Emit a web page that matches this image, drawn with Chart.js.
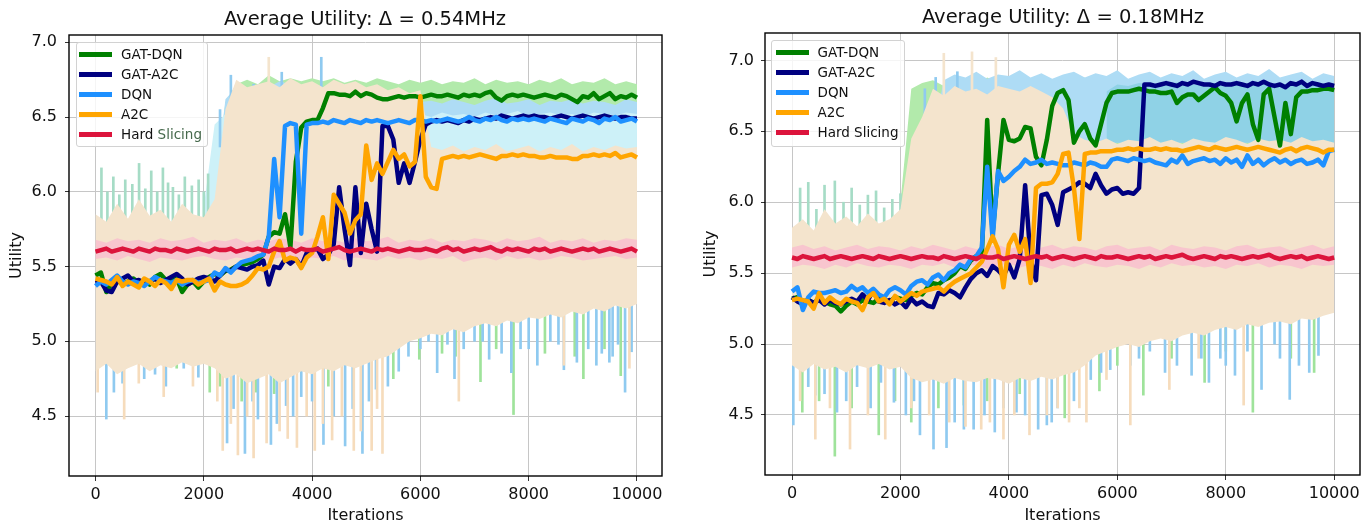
<!DOCTYPE html>
<html>
<head>
<meta charset="utf-8">
<title>Average Utility</title>
<script src="https://cdn.jsdelivr.net/npm/chart.js@4.4.1/dist/chart.umd.min.js"></script>
<style>
  html, body { margin: 0; padding: 0; background: #fff; }
  body { position: relative; width: 1368px; height: 525px; overflow: hidden; font-family: "DejaVu Sans", sans-serif; color: #111; }
  canvas { position: absolute; top: 0; }
  #chartLeft { left: 0; }
  #chartRight { left: 684px; }
  .title { position: absolute; width: 400px; text-align: center; font-size: 19.5px; line-height: 24px; color: #111; }
  .legend { position: absolute; box-sizing: border-box; border: 1px solid #d2d2d2; border-radius: 3px; background: rgba(255,255,255,0.82); font-size: 13.5px; color: #111; }
  .legend-child { position: absolute; height: 20px; line-height: 20px; white-space: nowrap; }
  .legend-child span.sw { display: inline-block; width: 33px; height: 5px; margin-right: 9px; vertical-align: middle; position: relative; top: -1px; }
</style>
</head>
<body>
<canvas id="chartLeft" width="684" height="525"></canvas>
<canvas id="chartRight" width="684" height="525"></canvas>
<div class="title" style="left:165px; top:7px;">Average Utility: Δ = 0.54MHz</div>
<div class="title" style="left:863px; top:5px;">Average Utility: Δ = 0.18MHz</div>
<div class="legend" id="legendLeft" style="left:76px; top:42px; width:132px; height:105px;"></div>
<div class="legend" id="legendRight" style="left:771px; top:40px; width:134px; height:107px;"></div>
<script>
// x grid of the smoothed curves (every 100 iterations) and of the raw bands (every 200)
const iters = [
  0,100,200,300,400,500,600,700,800,900,
  1000,1100,1200,1300,1400,1500,1600,1700,1800,1900,
  2000,2100,2200,2300,2400,2500,2600,2700,2800,2900,
  3000,3100,3200,3300,3400,3500,3600,3700,3800,3900,
  4000,4100,4200,4300,4400,4500,4600,4700,4800,4900,
  5000,5100,5200,5300,5400,5500,5600,5700,5800,5900,
  6000,6100,6200,6300,6400,6500,6600,6700,6800,6900,
  7000,7100,7200,7300,7400,7500,7600,7700,7800,7900,
  8000,8100,8200,8300,8400,8500,8600,8700,8800,8900,
  9000,9100,9200,9300,9400,9500,9600,9700,9800,9900,
  10000];
const bandIters = [
  0,200,400,600,800,1000,1200,1400,1600,1800,
  2000,2200,2400,2600,2800,3000,3200,3400,3600,3800,
  4000,4200,4400,4600,4800,5000,5200,5400,5600,5800,
  6000,6200,6400,6600,6800,7000,7200,7400,7600,7800,
  8000,8200,8400,8600,8800,9000,9200,9400,9600,9800,
  10000];
const xTicks = [0, 2000, 4000, 6000, 8000, 10000];
const yTicks = [4.5, 5.0, 5.5, 6.0, 6.5, 7.0];
const seriesNames = ["GAT-DQN", "GAT-A2C", "DQN", "A2C", "Hard Slicing"];

// ---------- left panel (0.54MHz) ----------
const L_gatDqn = [
  5.44,5.46,5.33,5.39,5.41,5.38,5.40,5.42,5.39,5.41,
  5.38,5.43,5.45,5.41,5.40,5.42,5.33,5.38,5.40,5.36,
  5.40,5.43,5.45,5.44,5.47,5.48,5.50,5.51,5.52,5.53,
  5.55,5.58,5.70,5.73,5.72,5.85,5.63,6.20,6.43,6.47,
  6.48,6.48,6.56,6.66,6.66,6.65,6.65,6.64,6.67,6.64,
  6.66,6.65,6.63,6.62,6.62,6.63,6.64,6.63,6.64,6.64,
  6.63,6.64,6.65,6.64,6.64,6.65,6.64,6.63,6.65,6.64,
  6.65,6.64,6.66,6.67,6.63,6.61,6.64,6.65,6.64,6.65,
  6.64,6.63,6.64,6.65,6.64,6.63,6.65,6.64,6.62,6.60,
  6.64,6.63,6.66,6.62,6.64,6.66,6.62,6.64,6.63,6.65,
  6.63];
const L_gatA2c = [
  5.39,5.40,5.34,5.33,5.40,5.42,5.44,5.40,5.41,5.39,
  5.40,5.42,5.39,5.41,5.43,5.45,5.42,5.38,5.40,5.42,
  5.43,5.42,5.40,5.44,5.48,5.47,5.50,5.49,5.48,5.50,
  5.51,5.54,5.38,5.50,5.49,5.55,5.52,5.55,5.50,5.59,
  5.61,5.62,5.55,5.58,5.65,6.03,5.75,5.51,6.03,5.59,
  5.92,5.75,5.60,6.44,6.44,6.35,6.06,6.19,6.06,6.20,
  6.35,6.45,6.47,6.48,6.47,6.48,6.47,6.46,6.48,6.47,
  6.49,6.48,6.49,6.50,6.49,6.51,6.50,6.49,6.50,6.51,
  6.50,6.51,6.50,6.50,6.49,6.50,6.51,6.50,6.49,6.50,
  6.51,6.50,6.49,6.50,6.51,6.50,6.49,6.50,6.50,6.49,
  6.49];
const L_dqn = [
  5.37,5.40,5.38,5.41,5.44,5.40,5.38,5.40,5.39,5.37,
  5.40,5.43,5.41,5.40,5.39,5.41,5.38,5.40,5.41,5.39,
  5.40,5.41,5.46,5.44,5.49,5.46,5.50,5.53,5.54,5.55,
  5.57,5.58,5.70,6.22,5.83,6.44,6.46,6.45,5.72,6.45,
  6.46,6.46,6.47,6.46,6.48,6.47,6.46,6.48,6.47,6.46,
  6.48,6.47,6.48,6.47,6.46,6.47,6.48,6.47,6.46,6.48,
  6.48,6.47,6.48,6.47,6.48,6.49,6.48,6.47,6.48,6.50,
  6.48,6.47,6.49,6.48,6.50,6.48,6.47,6.49,6.48,6.49,
  6.48,6.49,6.48,6.47,6.49,6.48,6.47,6.46,6.49,6.48,
  6.47,6.49,6.48,6.46,6.49,6.48,6.50,6.47,6.48,6.49,
  6.47];
const L_a2c = [
  5.42,5.41,5.40,5.38,5.43,5.37,5.40,5.38,5.36,5.42,
  5.40,5.37,5.41,5.39,5.35,5.41,5.40,5.41,5.41,5.38,
  5.40,5.42,5.34,5.40,5.38,5.37,5.37,5.38,5.40,5.44,
  5.49,5.48,5.50,5.60,5.67,5.54,5.56,5.55,5.49,5.56,
  5.59,5.70,5.83,5.55,5.98,5.92,5.86,5.72,5.81,5.85,
  6.31,6.08,6.19,6.12,6.20,6.28,6.22,6.25,6.17,6.20,
  6.64,6.10,6.03,6.02,6.22,6.23,6.24,6.23,6.24,6.23,
  6.24,6.25,6.24,6.23,6.22,6.24,6.24,6.25,6.24,6.25,
  6.24,6.24,6.23,6.23,6.24,6.23,6.23,6.23,6.22,6.22,
  6.24,6.24,6.25,6.24,6.25,6.24,6.26,6.23,6.24,6.25,
  6.23];
const L_hard = [
  5.60,5.61,5.62,5.60,5.61,5.62,5.61,5.60,5.62,5.61,
  5.60,5.62,5.61,5.61,5.60,5.62,5.61,5.60,5.61,5.62,
  5.61,5.60,5.62,5.61,5.61,5.62,5.60,5.61,5.62,5.61,
  5.62,5.61,5.60,5.62,5.61,5.61,5.62,5.60,5.62,5.61,
  5.61,5.62,5.60,5.61,5.62,5.63,5.61,5.60,5.61,5.62,
  5.61,5.60,5.62,5.61,5.62,5.61,5.60,5.61,5.62,5.61,
  5.61,5.62,5.61,5.60,5.62,5.63,5.61,5.62,5.60,5.61,
  5.62,5.61,5.62,5.63,5.61,5.60,5.62,5.61,5.62,5.61,
  5.60,5.62,5.61,5.62,5.60,5.61,5.62,5.61,5.60,5.61,
  5.62,5.61,5.62,5.60,5.61,5.62,5.61,5.60,5.61,5.62,
  5.60];

// raw (unsmoothed) envelopes, every 200 iterations
const L_beigeHi = [
  5.85,5.80,5.92,5.82,5.95,5.84,5.88,5.80,5.92,5.85,
  5.83,5.95,6.55,6.75,6.70,6.72,6.74,6.70,6.76,6.72,
  6.74,6.70,6.75,6.72,6.74,6.70,6.72,6.68,6.70,6.66,
  6.68,6.30,6.28,6.31,6.27,6.30,6.28,6.32,6.27,6.29,
  6.31,6.27,6.30,6.28,6.32,6.27,6.30,6.28,6.31,6.29,
  6.30];
const L_beigeLo = [
  4.80,4.85,4.78,4.82,4.85,4.80,4.84,4.82,4.86,4.83,
  4.85,4.82,4.75,4.78,4.72,4.75,4.78,4.72,4.76,4.80,
  4.78,4.82,4.80,4.84,4.82,4.85,4.88,4.90,4.95,5.00,
  5.02,5.05,5.04,5.08,5.06,5.10,5.12,5.10,5.14,5.12,
  5.16,5.15,5.18,5.16,5.20,5.18,5.22,5.20,5.24,5.22,
  5.25];
const L_greenHi = [
  null,null,null,null,null,null,null,null,null,null,
  null,6.00,6.60,6.72,6.75,6.72,6.78,6.74,6.76,6.74,
  6.76,6.74,6.76,6.73,6.75,6.73,6.76,6.74,6.72,6.75,
  6.73,6.75,6.72,6.74,6.73,6.76,6.72,6.75,6.73,6.74,
  6.72,6.75,6.73,6.76,6.72,6.74,6.73,6.76,6.72,6.74,
  6.72];
const L_greenLo = [
  null,null,null,null,null,null,null,null,null,null,
  null,5.80,5.80,5.80,5.80,5.80,5.80,5.80,5.80,5.80,
  5.80,6.40,6.54,6.55,6.53,6.56,6.54,6.53,6.55,6.54,
  6.56,6.53,6.55,6.54,6.53,6.56,6.54,6.55,6.53,6.54,
  6.56,6.55,6.53,6.54,6.56,6.55,6.53,6.54,6.55,6.53,
  6.56];
const L_blueHi = [
  null,null,null,null,null,null,null,null,null,null,
  null,6.00,6.62,6.70,6.68,6.72,6.70,6.74,6.72,6.70,
  6.62,6.60,6.62,6.58,6.61,6.59,6.63,6.60,6.58,6.62,
  6.60,6.61,6.59,6.62,6.60,6.58,6.61,6.63,6.59,6.60,
  6.62,6.58,6.61,6.60,6.62,6.59,6.61,6.60,6.58,6.62,
  6.60];
const L_blueLo = [
  null,null,null,null,null,null,null,null,null,null,
  null,5.80,5.80,5.80,5.80,5.80,5.80,5.80,5.80,5.80,
  5.80,6.40,6.40,6.40,6.40,6.40,6.40,6.40,6.40,6.40,
  6.40,6.40,6.40,6.40,6.40,6.40,6.40,6.40,6.40,6.40,
  6.40,6.40,6.40,6.40,6.40,6.40,6.40,6.40,6.40,6.40,
  6.40];
const L_cyanHi = [
  null,null,null,null,null,null,null,null,null,null,
  5.90,6.45,6.52,6.55,6.52,6.56,6.53,6.55,6.52,6.56,
  6.54,6.52,6.55,6.53,6.56,6.52,6.54,6.55,6.53,6.56,
  6.52,6.50,6.53,6.51,6.52,6.50,6.53,6.51,6.52,6.54,
  6.50,6.52,6.53,6.51,6.52,6.50,6.53,6.52,6.51,6.53,
  6.52];
const L_cyanLo = [
  null,null,null,null,null,null,null,null,null,null,
  5.80,5.80,5.80,5.80,5.80,5.80,5.80,5.80,5.80,5.80,
  5.80,5.80,5.80,5.80,5.80,5.80,5.80,5.80,5.80,5.80,
  6.10,6.10,6.10,6.10,6.10,6.10,6.10,6.10,6.10,6.10,
  6.10,6.10,6.10,6.10,6.10,6.10,6.10,6.10,6.10,6.10,
  6.10];
const L_pinkHi = [
  5.68,5.66,5.69,5.67,5.68,5.66,5.69,5.67,5.68,5.70,
  5.66,5.68,5.67,5.69,5.66,5.68,5.67,5.69,5.68,5.66,
  5.69,5.67,5.68,5.66,5.69,5.67,5.68,5.70,5.66,5.68,
  5.67,5.69,5.66,5.68,5.67,5.69,5.68,5.66,5.69,5.67,
  5.68,5.70,5.66,5.68,5.67,5.69,5.66,5.68,5.67,5.69,
  5.68];
const L_pinkLo = [
  5.55,5.56,5.54,5.57,5.55,5.53,5.56,5.55,5.54,5.56,
  5.57,5.55,5.54,5.56,5.55,5.57,5.54,5.56,5.55,5.53,
  5.56,5.55,5.57,5.54,5.56,5.55,5.54,5.57,5.55,5.56,
  5.54,5.56,5.55,5.57,5.53,5.55,5.56,5.54,5.57,5.55,
  5.56,5.54,5.55,5.57,5.56,5.54,5.55,5.56,5.57,5.55,
  5.56];

// single raw dips / peaks that stick out of the envelopes
const L_blueDipIters = [200,340,500,900,1100,1300,1630,1900,2430,2550,2760,2900,3000,3240,3350,3520,3650,3800,4000,4210,4400,4610,4750,4930,5050,5180,5400,5600,5780,6000,6150,6310,6500,6630,6800,7000,7150,7270,7500,7680,7850,8000,8160,8400,8550,8650,8890,9100,9250,9350,9490,9550,9650,9780,9900];
const L_blueDipLows  = [4.48,4.66,4.72,4.75,4.78,4.70,4.82,4.76,4.32,4.55,4.25,4.60,4.48,4.31,4.45,4.57,4.50,4.63,4.60,4.31,4.50,4.30,4.55,4.25,4.60,4.68,4.70,4.80,4.90,4.95,5.00,4.79,4.98,4.75,4.95,5.00,5.00,4.88,4.92,4.79,4.95,4.95,4.84,5.00,4.98,4.81,4.86,4.95,4.84,4.92,4.86,4.90,4.98,4.66,4.93];
const L_greenDipIters = [600,1500,2110,2300,2700,2960,3300,4300,5500,5980,6400,6650,7110,7400,7720,8300,8850,9010,9400,9700];
const L_greenDipLows  = [4.85,4.82,4.66,4.70,4.60,4.66,4.65,4.70,4.75,4.88,4.92,4.90,4.73,4.95,4.51,4.92,4.90,4.75,4.95,4.77];
const L_beigeDipIters = [40,530,800,1260,1800,2250,2350,2500,2630,2800,2920,3160,3400,3550,3720,3900,4050,4200,4370,4550,4770,4900,5100,5200,5300,6710,8650,9860];
const L_beigeDipLows  = [4.66,4.48,4.72,4.63,4.70,4.60,4.27,4.45,4.24,4.50,4.22,4.32,4.40,4.35,4.29,4.50,4.27,4.45,4.34,4.50,4.27,4.40,4.27,4.55,4.25,4.60,4.84,4.82];
const L_tealPeakIters = [110,220,330,440,550,680,805,920,1030,1140,1245,1340,1430,1540,1650,1780,1905,2000,2080];
const L_tealPeakHighs = [6.16,6.00,6.10,5.98,6.08,6.05,6.19,6.02,6.14,6.00,6.16,6.06,6.03,5.98,6.10,6.04,6.08,6.00,6.12];
const L_bluePeakIters = [2300,2500,2920,3440,4170];
const L_bluePeakHighs = [6.55,6.78,6.72,6.80,6.90];
const L_beigePeakIters = [3200];
const L_beigePeakHighs = [6.90];

// ---------- right panel (0.18MHz) ----------
const R_gatDqn = [
  5.32,5.33,5.30,5.31,5.29,5.32,5.30,5.28,5.27,5.23,
  5.27,5.30,5.28,5.31,5.30,5.29,5.32,5.31,5.30,5.33,
  5.32,5.31,5.34,5.36,5.35,5.40,5.43,5.42,5.45,5.47,
  5.50,5.55,5.53,5.59,5.62,5.62,6.58,5.78,6.20,6.58,
  6.44,6.43,6.45,6.53,6.52,6.32,6.26,6.44,6.68,6.77,
  6.79,6.72,6.42,6.50,6.55,6.45,6.40,6.55,6.70,6.77,
  6.78,6.78,6.78,6.79,6.80,6.79,6.78,6.78,6.77,6.77,
  6.78,6.70,6.74,6.76,6.76,6.72,6.75,6.78,6.81,6.77,
  6.75,6.70,6.57,6.70,6.76,6.55,6.44,6.76,6.80,6.60,
  6.40,6.70,6.48,6.74,6.78,6.78,6.79,6.79,6.80,6.80,
  6.79];
const R_gatA2c = [
  5.33,5.30,5.28,5.31,5.29,5.31,5.28,5.31,5.29,5.28,
  5.30,5.32,5.30,5.35,5.31,5.38,5.30,5.29,5.31,5.28,
  5.30,5.26,5.32,5.28,5.30,5.27,5.26,5.36,5.35,5.38,
  5.36,5.33,5.40,5.46,5.50,5.52,5.48,5.55,5.52,5.48,
  5.56,5.47,5.60,6.12,5.60,5.45,6.05,6.06,5.98,5.84,
  6.07,6.09,6.11,6.14,6.13,6.10,6.20,6.12,6.06,6.09,
  6.10,6.06,6.07,6.06,6.10,6.83,6.83,6.82,6.83,6.84,
  6.83,6.82,6.84,6.83,6.85,6.84,6.83,6.83,6.82,6.84,
  6.83,6.83,6.84,6.83,6.82,6.84,6.83,6.85,6.83,6.82,
  6.83,6.81,6.84,6.83,6.85,6.82,6.84,6.83,6.82,6.83,
  6.82];
const R_dqn = [
  5.37,5.40,5.24,5.33,5.37,5.36,5.36,5.37,5.38,5.36,
  5.37,5.41,5.38,5.40,5.36,5.39,5.35,5.33,5.38,5.40,
  5.38,5.35,5.41,5.44,5.45,5.42,5.47,5.49,5.45,5.50,
  5.52,5.56,5.54,5.60,5.62,5.68,6.25,5.74,6.22,6.15,
  6.18,6.22,6.25,6.30,6.27,6.28,6.30,6.27,6.28,6.27,
  6.26,6.26,6.28,6.27,6.26,6.28,6.27,6.25,6.25,6.30,
  6.31,6.30,6.29,6.31,6.30,6.29,6.30,6.28,6.27,6.26,
  6.30,6.28,6.33,6.27,6.29,6.30,6.31,6.29,6.30,6.27,
  6.31,6.28,6.30,6.25,6.33,6.27,6.30,6.26,6.29,6.31,
  6.28,6.30,6.27,6.29,6.30,6.27,6.28,6.30,6.26,6.36,
  6.37];
const R_a2c = [
  5.31,5.32,5.31,5.30,5.25,5.36,5.29,5.33,5.30,5.28,
  5.32,5.30,5.29,5.24,5.33,5.36,5.30,5.32,5.28,5.34,
  5.30,5.33,5.36,5.34,5.37,5.38,5.39,5.40,5.37,5.41,
  5.44,5.46,5.48,5.50,5.54,5.58,5.67,5.76,5.67,5.40,
  5.70,5.77,5.65,5.74,5.43,6.10,6.13,6.13,6.14,6.20,
  6.34,6.35,6.10,5.74,6.34,6.35,6.35,6.36,6.36,6.36,
  6.37,6.37,6.38,6.37,6.38,6.37,6.37,6.38,6.37,6.38,
  6.37,6.37,6.36,6.37,6.38,6.39,6.38,6.37,6.39,6.38,
  6.37,6.38,6.39,6.38,6.37,6.38,6.39,6.38,6.37,6.36,
  6.35,6.37,6.38,6.36,6.38,6.39,6.38,6.37,6.35,6.37,
  6.37];
const R_hard = [
  5.61,5.60,5.62,5.61,5.60,5.61,5.62,5.60,5.61,5.62,
  5.61,5.60,5.61,5.62,5.61,5.60,5.62,5.61,5.60,5.61,
  5.62,5.61,5.60,5.61,5.62,5.61,5.61,5.60,5.62,5.61,
  5.60,5.61,5.62,5.61,5.60,5.62,5.61,5.61,5.62,5.60,
  5.61,5.62,5.61,5.60,5.61,5.62,5.61,5.62,5.60,5.61,
  5.62,5.61,5.60,5.61,5.62,5.61,5.60,5.62,5.61,5.61,
  5.62,5.61,5.60,5.61,5.62,5.61,5.62,5.60,5.61,5.62,
  5.61,5.62,5.63,5.61,5.60,5.61,5.62,5.61,5.60,5.62,
  5.61,5.62,5.61,5.60,5.61,5.62,5.61,5.62,5.63,5.61,
  5.60,5.61,5.62,5.61,5.62,5.60,5.61,5.62,5.61,5.60,
  5.61];

const R_beigeHi = [
  5.82,5.88,5.80,5.95,5.85,5.90,5.83,5.92,5.85,5.88,
  5.95,6.45,6.60,6.80,6.75,6.82,6.78,6.80,6.76,6.82,
  6.80,6.78,6.82,6.78,6.74,6.66,6.48,6.44,6.42,6.45,
  6.41,6.44,6.43,6.46,6.42,6.44,6.41,6.45,6.43,6.42,
  6.46,6.44,6.41,6.45,6.43,6.44,6.42,6.46,6.43,6.44,
  6.42];
const R_beigeLo = [
  4.85,4.80,4.86,4.82,4.84,4.80,4.85,4.83,4.86,4.82,
  4.84,4.76,4.73,4.75,4.72,4.76,4.74,4.73,4.76,4.75,
  4.72,4.76,4.74,4.77,4.75,4.78,4.80,4.85,4.92,4.95,
  4.98,5.00,4.98,5.02,5.04,5.02,5.06,5.08,5.06,5.10,
  5.12,5.10,5.14,5.12,5.15,5.16,5.14,5.18,5.17,5.20,
  5.22];
const R_greenHi = [
  null,null,null,null,null,null,null,null,null,null,
  6.00,6.80,6.84,6.86,6.82,6.87,6.85,6.83,6.88,6.84,
  6.86,6.82,6.85,6.87,6.83,6.86,6.84,6.88,6.82,6.85,
  6.86,6.83,6.87,6.84,6.85,6.82,6.86,6.88,6.83,6.85,
  6.84,6.87,6.82,6.86,6.85,6.83,6.87,6.84,6.86,6.82,
  6.85];
const R_greenLo = [
  null,null,null,null,null,null,null,null,null,null,
  5.80,6.00,6.00,6.00,6.00,6.00,6.00,6.00,6.00,6.00,
  6.00,6.00,6.00,6.00,6.00,6.00,6.00,6.00,6.00,6.00,
  6.00,6.00,6.00,6.00,6.00,6.00,6.00,6.00,6.00,6.00,
  6.00,6.00,6.00,6.00,6.00,6.00,6.00,6.00,6.00,6.00,
  6.00];
const R_blueHi = [
  null,null,null,null,null,null,null,null,null,null,
  null,null,null,6.50,6.86,6.90,6.88,6.92,6.87,6.90,
  6.89,6.93,6.88,6.91,6.87,6.90,6.92,6.88,6.91,6.89,
  6.93,6.87,6.90,6.92,6.88,6.91,6.89,6.93,6.87,6.90,
  6.92,6.88,6.91,6.89,6.94,6.88,6.90,6.92,6.87,6.91,
  6.89];
const R_blueLo = [
  null,null,null,null,null,null,null,null,null,null,
  null,null,null,6.00,6.00,6.00,6.00,6.00,6.00,6.00,
  6.00,6.00,6.00,6.00,6.00,6.00,6.42,6.42,6.42,6.42,
  6.42,6.42,6.42,6.42,6.42,6.42,6.42,6.42,6.42,6.42,
  6.42,6.42,6.42,6.42,6.42,6.42,6.42,6.42,6.42,6.42,
  6.42];
const R_tealHi = [
  null,null,null,null,null,null,null,null,null,null,
  null,null,null,null,null,null,null,null,null,null,
  null,null,null,null,null,null,null,null,null,6.78,
  6.83,6.82,6.84,6.83,6.82,6.84,6.85,6.83,6.82,6.84,
  6.83,6.85,6.82,6.84,6.83,6.82,6.84,6.85,6.83,6.82,
  6.84];
const R_tealLo = [
  null,null,null,null,null,null,null,null,null,null,
  null,null,null,null,null,null,null,null,null,null,
  null,null,null,null,null,null,null,null,null,6.42,
  6.42,6.42,6.42,6.42,6.42,6.42,6.42,6.42,6.42,6.42,
  6.42,6.42,6.42,6.42,6.42,6.42,6.42,6.42,6.42,6.42,
  6.42];
const R_pinkHi = [
  5.68,5.70,5.67,5.69,5.66,5.68,5.70,5.67,5.69,5.68,
  5.66,5.69,5.67,5.70,5.68,5.66,5.69,5.67,5.68,5.70,
  5.67,5.69,5.66,5.68,5.70,5.67,5.69,5.68,5.66,5.69,
  5.70,5.67,5.68,5.69,5.66,5.70,5.68,5.67,5.69,5.68,
  5.66,5.69,5.70,5.67,5.68,5.69,5.66,5.68,5.70,5.67,
  5.69];
const R_pinkLo = [
  5.54,5.56,5.55,5.53,5.56,5.54,5.57,5.55,5.54,5.56,
  5.55,5.53,5.56,5.55,5.57,5.54,5.55,5.56,5.53,5.55,
  5.57,5.54,5.56,5.55,5.53,5.56,5.54,5.57,5.55,5.54,
  5.56,5.55,5.53,5.56,5.54,5.57,5.55,5.56,5.54,5.55,
  5.53,5.56,5.55,5.57,5.54,5.56,5.55,5.53,5.56,5.55,
  5.56];

const R_blueDipIters = [24,300,430,600,830,1000,1200,1450,1640,1880,2100,2250,2360,2610,2850,3000,3170,3350,3550,3740,3900,4140,4300,4540,4700,4790,4900,5200,5510,5700,5870,6240,6400,6600,6880,7100,7370,7550,7690,7900,8000,8170,8400,8660,8900,9000,9180,9350,9540,9710];
const R_blueDipLows  = [4.43,4.70,4.64,4.65,4.52,4.60,4.70,4.55,4.73,4.59,4.50,4.60,4.36,4.26,4.27,4.45,4.40,4.40,4.50,4.38,4.55,4.52,4.50,4.40,4.43,4.45,4.55,4.60,4.75,4.80,4.82,4.85,4.90,4.95,4.80,4.85,4.78,4.90,4.73,4.90,4.85,4.78,4.95,4.68,5.00,4.90,4.61,4.85,4.80,4.92];
const R_greenDipIters = [190,500,790,1100,1600,1900,2200,2700,3170,3600,4200,5030,5670,6000,6480,7000,7610,8000,8500,9200,9630];
const R_greenDipLows  = [4.52,4.60,4.21,4.55,4.36,4.60,4.45,4.55,4.57,4.60,4.65,4.48,4.67,4.85,4.64,4.90,4.73,4.95,4.52,4.90,4.80];
const R_beigeDipIters = [150,430,700,1070,1400,1720,2200,2530,2900,3200,3490,3650,3900,4100,4380,4700,4900,5110,5300,5430,5800,6240,6960,7500,8330];
const R_beigeDipLows  = [4.60,4.33,4.55,4.26,4.50,4.33,4.55,4.50,4.45,4.42,4.40,4.45,4.33,4.50,4.36,4.50,4.55,4.45,4.55,4.45,4.75,4.43,4.68,4.90,4.57];
const R_tealPeakIters = [150,300,450,600,790,950,1100,1250,1400,1550,1700,1850,2000];
const R_tealPeakHighs = [6.10,6.14,5.95,6.12,6.15,6.00,6.10,5.98,6.05,6.08,5.96,6.02,6.06];
const R_bluePeakIters = [2450,2650,3050];
const R_bluePeakHighs = [6.80,6.88,6.92];
const R_beigePeakIters = [2800,3320,3760];
const R_beigePeakHighs = [7.05,7.06,7.02];

// ---------- colours ----------
const gatDqnColor = "#008000";
const gatA2cColor = "#000080";
const dqnColor = "#1e90ff";
const a2cColor = "#ffa500";
const hardColor = "#dc143c";
const rawBeige = "#f4e4cd";
const rawGreen = "#b2eaab";
const rawBlue = "#aedcf5";
const rawCyan = "#cdf1f8";
const rawTeal = "#8fd2e6";
const rawPink = "#f8c5ce";
const dipBlue = "#8fcaf0";
const dipGreen = "#9fe39b";
const dipBeige = "#f6dcbc";
const peakTeal = "#a6dcc6";

Chart.defaults.font.family = "'DejaVu Sans', sans-serif";
Chart.defaults.color = "#111";

function pts(xs, ys) {
  return xs.map((x, i) => ({ x: x, y: ys[i] }));
}

function lineSet(label, color, ys) {
  return {
    type: "line", label: label, data: pts(iters, ys),
    borderColor: color, backgroundColor: color, borderWidth: 4.5,
    borderJoinStyle: "round", pointRadius: 0, tension: 0, fill: false
  };
}

// upper edge filled down to the lower edge that follows it
function bandSets(hi, lo, color) {
  return [
    { type: "line", data: pts(bandIters, hi), borderColor: "rgba(0,0,0,0)", borderWidth: 1,
      pointRadius: 0, tension: 0, fill: "+1", backgroundColor: color, spanGaps: false },
    { type: "line", data: pts(bandIters, lo), borderColor: "rgba(0,0,0,0)", borderWidth: 1,
      pointRadius: 0, tension: 0, fill: false, spanGaps: false }
  ];
}

function spikeSet(xs, ys, color, base) {
  return {
    type: "bar", data: pts(xs, ys), backgroundColor: color, base: base,
    barThickness: 2, grouped: false, borderWidth: 0
  };
}

const framePlugin = {
  id: "frame",
  afterDraw(chart) {
    const { ctx, chartArea: a } = chart;
    ctx.save();
    ctx.strokeStyle = "#000";
    ctx.lineWidth = 1.4;
    ctx.strokeRect(a.left, a.top, a.right - a.left, a.bottom - a.top);
    ctx.restore();
  }
};

function makeChart(canvasId, p) {
  const datasets = [
    lineSet("Hard Slicing", hardColor, p.hard),
    lineSet("A2C", a2cColor, p.a2c),
    lineSet("DQN", dqnColor, p.dqn),
    lineSet("GAT-A2C", gatA2cColor, p.gatA2c),
    lineSet("GAT-DQN", gatDqnColor, p.gatDqn),
    ...bandSets(p.pinkHi, p.pinkLo, rawPink),
    ...bandSets(p.beigeHi, p.beigeLo, rawBeige),
    spikeSet(p.beigeDipIters, p.beigeDipLows, dipBeige, 5.3),
    spikeSet(p.beigePeakIters, p.beigePeakHighs, rawBeige, 6.4),
    spikeSet(p.blueDipIters, p.blueDipLows, dipBlue, 5.3),
    spikeSet(p.greenDipIters, p.greenDipLows, dipGreen, 5.3),
    spikeSet(p.tealPeakIters, p.tealPeakHighs, peakTeal, 5.75),
    spikeSet(p.bluePeakIters, p.bluePeakHighs, dipBlue, 6.3)
  ];
  if (p.tealHi) datasets.push(...bandSets(p.tealHi, p.tealLo, rawTeal));
  if (p.cyanHi) datasets.push(...bandSets(p.cyanHi, p.cyanLo, rawCyan));
  datasets.push(...bandSets(p.blueHi, p.blueLo, rawBlue));
  datasets.push(...bandSets(p.greenHi, p.greenLo, rawGreen));

  return new Chart(document.getElementById(canvasId), {
    type: "line",
    data: { datasets: datasets },
    options: {
      responsive: false,
      animation: false,
      devicePixelRatio: 1,
      layout: { padding: p.padding },
      plugins: { legend: { display: false }, tooltip: { enabled: false } },
      scales: {
        x: {
          type: "linear", min: p.xMin, max: p.xMax, offset: false,
          afterBuildTicks: (axis) => { axis.ticks = xTicks.map(v => ({ value: v })); },
          afterFit: (axis) => { axis.height = p.xAxisHeight; },
          ticks: { autoSkip: false, callback: (v) => String(v),
                   font: { size: 16 }, color: "#111", padding: 4, maxRotation: 0 },
          grid: { offset: false, color: "#c6c6c6", lineWidth: 1, tickLength: 5, tickColor: "#333" },
          border: { display: false },
          title: { display: true, text: "Iterations", font: { size: 16 }, color: "#111", padding: { top: 0, bottom: 0 } }
        },
        y: {
          type: "linear", min: p.yMin, max: p.yMax, offset: false, beginAtZero: false,
          afterBuildTicks: (axis) => { axis.ticks = yTicks.map(v => ({ value: v })); },
          afterFit: (axis) => { axis.width = p.yAxisWidth; },
          ticks: { autoSkip: false, callback: (v) => v.toFixed(1),
                   font: { size: 16 }, color: "#111", padding: p.yTickPad },
          grid: { offset: false, color: "#c6c6c6", lineWidth: 1, tickLength: 4, tickColor: "#333" },
          border: { display: false },
          title: { display: true, text: "Utility", font: { size: 16 }, color: "#111", padding: { top: p.yTitlePad, bottom: 0 } }
        }
      }
    },
    plugins: [framePlugin]
  });
}

makeChart("chartLeft", {
  gatDqn: L_gatDqn, gatA2c: L_gatA2c, dqn: L_dqn, a2c: L_a2c, hard: L_hard,
  beigeHi: L_beigeHi, beigeLo: L_beigeLo, greenHi: L_greenHi, greenLo: L_greenLo,
  blueHi: L_blueHi, blueLo: L_blueLo, cyanHi: L_cyanHi, cyanLo: L_cyanLo,
  pinkHi: L_pinkHi, pinkLo: L_pinkLo,
  blueDipIters: L_blueDipIters, blueDipLows: L_blueDipLows,
  greenDipIters: L_greenDipIters, greenDipLows: L_greenDipLows,
  beigeDipIters: L_beigeDipIters, beigeDipLows: L_beigeDipLows,
  tealPeakIters: L_tealPeakIters, tealPeakHighs: L_tealPeakHighs,
  bluePeakIters: L_bluePeakIters, bluePeakHighs: L_bluePeakHighs,
  beigePeakIters: L_beigePeakIters, beigePeakHighs: L_beigePeakHighs,
  xMin: -489, xMax: 10462, yMin: 4.099, yMax: 7.049,
  padding: { top: 35, right: 22, left: 0, bottom: 0 },
  xAxisHeight: 49, yAxisWidth: 69, yTickPad: 8, yTitlePad: 7
});

makeChart("chartRight", {
  gatDqn: R_gatDqn, gatA2c: R_gatA2c, dqn: R_dqn, a2c: R_a2c, hard: R_hard,
  beigeHi: R_beigeHi, beigeLo: R_beigeLo, greenHi: R_greenHi, greenLo: R_greenLo,
  blueHi: R_blueHi, blueLo: R_blueLo, tealHi: R_tealHi, tealLo: R_tealLo,
  pinkHi: R_pinkHi, pinkLo: R_pinkLo,
  blueDipIters: R_blueDipIters, blueDipLows: R_blueDipLows,
  greenDipIters: R_greenDipIters, greenDipLows: R_greenDipLows,
  beigeDipIters: R_beigeDipIters, beigeDipLows: R_beigeDipLows,
  tealPeakIters: R_tealPeakIters, tealPeakHighs: R_tealPeakHighs,
  bluePeakIters: R_bluePeakIters, bluePeakHighs: R_bluePeakHighs,
  beigePeakIters: R_beigePeakIters, beigePeakHighs: R_beigePeakHighs,
  xMin: -498, xMax: 10476, yMin: 4.077, yMax: 7.193,
  padding: { top: 33, right: 8, left: 0, bottom: 0 },
  xAxisHeight: 50, yAxisWidth: 81, yTickPad: 7, yTitlePad: 17
});

// Custom legends inside the plot areas
const legendColors = [gatDqnColor, gatA2cColor, dqnColor, a2cColor, hardColor];
function buildLegend(id, labels) {
  const legendContainer = document.getElementById(id);
  labels.forEach((label, index) => {
    const legendItem = document.createElement("div");
    legendItem.className = "legend-child";
    legendItem.style.top = (1 + 20 * index) + "px";
    legendItem.style.left = id === "legendLeft" ? "2px" : "3.5px";
    legendItem.innerHTML = `<span class="sw" style="background-color: ${legendColors[index]};"></span><span>${label}</span>`;
    legendContainer.appendChild(legendItem);
  });
}
buildLegend("legendLeft", ["GAT-DQN", "GAT-A2C", "DQN", "A2C", "Hard <span style=\"color:#46694c\">Slicing</span>"]);
buildLegend("legendRight", seriesNames);
</script>
</body>
</html>
